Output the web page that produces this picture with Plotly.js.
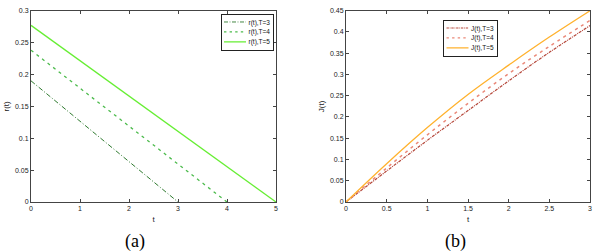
<!DOCTYPE html>
<html>
<head>
<meta charset="utf-8">
<script src="https://cdn.plot.ly/plotly-3.0.1.min.js"></script>
<style>html,body{margin:0;padding:0;background:#fff;}#chart{width:604px;height:251px;}</style>
</head>
<body>
<div id="chart"></div>
<script>
// Panel (a): r(t)
const rT3_t = [0, 3];
const rT3_v = [0.19, 0];
const rT4_t = [0, 4];
const rT4_v = [0.238, 0];
const rT5_t = [0, 5];
const rT5_v = [0.277, 0];
const rNames = ['r(t),T=3', 'r(t),T=4', 'r(t),T=5'];

// Panel (b): J(t)
const jT = [0, 0.5, 1, 1.5, 2, 2.5, 3];
const jT3 = [0, 0.073, 0.145, 0.215, 0.285, 0.352, 0.415];
const jT4 = [0, 0.080, 0.158, 0.232, 0.302, 0.366, 0.427];
const jT5 = [0, 0.090, 0.175, 0.253, 0.322, 0.388, 0.45];
const jNames = ['J(t),T=3', 'J(t),T=4', 'J(t),T=5'];

const xTicksA = [0, 1, 2, 3, 4, 5];
const yTicksA = [0, 0.05, 0.1, 0.15, 0.2, 0.25, 0.3];
const xTicksB = [0, 0.5, 1, 1.5, 2, 2.5, 3];
const yTicksB = [0, 0.05, 0.1, 0.15, 0.2, 0.25, 0.3, 0.35, 0.4, 0.45];

const traces = [
  {x: rT3_t, y: rT3_v, name: rNames[0], mode: 'lines', line: {color: '#2f7a2f', width: 1, dash: '5px,2px,1px,2px'}, xaxis: 'x', yaxis: 'y', legend: 'legend'},
  {x: rT4_t, y: rT4_v, name: rNames[1], mode: 'lines', line: {color: '#4cbb4c', width: 1.3, dash: '3px,4px'}, xaxis: 'x', yaxis: 'y', legend: 'legend'},
  {x: rT5_t, y: rT5_v, name: rNames[2], mode: 'lines', line: {color: '#66ee33', width: 1.3}, xaxis: 'x', yaxis: 'y', legend: 'legend'},
  {x: jT, y: jT3, name: jNames[0], mode: 'lines', line: {color: '#b5473a', width: 1.2, dash: '3px,1px,1px,1px', shape: 'spline'}, xaxis: 'x2', yaxis: 'y2', legend: 'legend2'},
  {x: jT, y: jT4, name: jNames[1], mode: 'lines', line: {color: '#ea8878', width: 1.5, dash: '3px,4px', shape: 'spline'}, xaxis: 'x2', yaxis: 'y2', legend: 'legend2'},
  {x: jT, y: jT5, name: jNames[2], mode: 'lines', line: {color: '#ffb22e', width: 1.3, shape: 'spline'}, xaxis: 'x2', yaxis: 'y2', legend: 'legend2'}
];

const tickFont = {family: 'Liberation Sans, Arial, sans-serif', size: 7, color: '#222'};
function ax(extra) {
  return Object.assign({
    showline: true, mirror: 'ticks', linecolor: '#444', linewidth: 1,
    ticks: 'inside', ticklen: 3, tickcolor: '#444', tickwidth: 1,
    showgrid: false, zeroline: false, tickfont: tickFont, fixedrange: true
  }, extra);
}
const titleFont = {family: 'Liberation Sans, Arial, sans-serif', size: 8, color: '#222'};
const legFont = {family: 'Liberation Sans, Arial, sans-serif', size: 13, color: '#111'};

const layout = {
  width: 604, height: 251,
  margin: {l: 0, r: 0, t: 0, b: 0},
  paper_bgcolor: '#fff', plot_bgcolor: '#fff',
  showlegend: true,
  xaxis: ax({domain: [31/604, 276/604], range: [0, 5], tickvals: xTicksA, anchor: 'y', title: {text: 't', font: titleFont, standoff: 4}}),
  yaxis: ax({domain: [49/251, 240.3/251], range: [0, 0.3], tickvals: yTicksA, anchor: 'x', title: {text: 'r(t)', font: titleFont, standoff: 4}}),
  xaxis2: ax({domain: [346/604, 590/604], range: [0, 3], tickvals: xTicksB, anchor: 'y2', title: {text: 't', font: titleFont, standoff: 4}}),
  yaxis2: ax({domain: [49/251, 240.3/251], range: [0, 0.45], tickvals: yTicksB, anchor: 'x2', title: {text: 'J(t)', font: titleFont, standoff: 4}}),
  legend: {x: 0, y: 1, xanchor: 'left', yanchor: 'top', bordercolor: '#222', borderwidth: 2, bgcolor: '#fff',
    font: legFont, tracegroupgap: 0, itemwidth: 44},
  legend2: {x: 0.5, y: 1, xanchor: 'left', yanchor: 'top', bordercolor: '#222', borderwidth: 2, bgcolor: '#fff',
    font: legFont, tracegroupgap: 0, itemwidth: 44},
  annotations: [
    {text: '(a)', xref: 'paper', yref: 'paper', x: 135/604, y: 1 - 241/251, xanchor: 'center', yanchor: 'middle', showarrow: false,
      font: {family: 'Liberation Serif, Times New Roman, serif', size: 18, color: '#000'}},
    {text: '(b)', xref: 'paper', yref: 'paper', x: 455/604, y: 1 - 241/251, xanchor: 'center', yanchor: 'middle', showarrow: false,
      font: {family: 'Liberation Serif, Times New Roman, serif', size: 18, color: '#000'}}
  ]
};

// Legend targets: top-right corner in px, and scale factor
const legendPlacement = [
  {cls: 'legend', right: 273, top: 14},
  {cls: 'legend2', right: 497, top: 20}
];
const legendScale = 0.5;

Plotly.newPlot('chart', traces, layout, {displayModeBar: false, staticPlot: true}).then(function (gd) {
  legendPlacement.forEach(function (p) {
    const g = gd.querySelector('g.' + p.cls);
    if (!g) return;
    // compensate line thickness and dash pattern for the scale
    g.querySelectorAll('path.js-line').forEach(function (path) {
      const sw = parseFloat(path.style.strokeWidth || path.getAttribute('stroke-width') || 1);
      path.style.strokeWidth = (sw * 1.8) + 'px';
      const da = path.style.strokeDasharray;
      if (da && da !== 'none') {
        path.style.strokeDasharray = da.split(/[ ,]+/).map(function (v) { return parseFloat(v) * 1.6 + 'px'; }).join(',');
      }
    });
    const bb = g.getBBox();
    const w = bb.width * legendScale;
    const tx = p.right - w - bb.x * legendScale;
    const ty = p.top - bb.y * legendScale;
    g.setAttribute('transform', 'translate(' + tx + ',' + ty + ') scale(' + legendScale + ')');
  });
});
</script>
</body>
</html>
